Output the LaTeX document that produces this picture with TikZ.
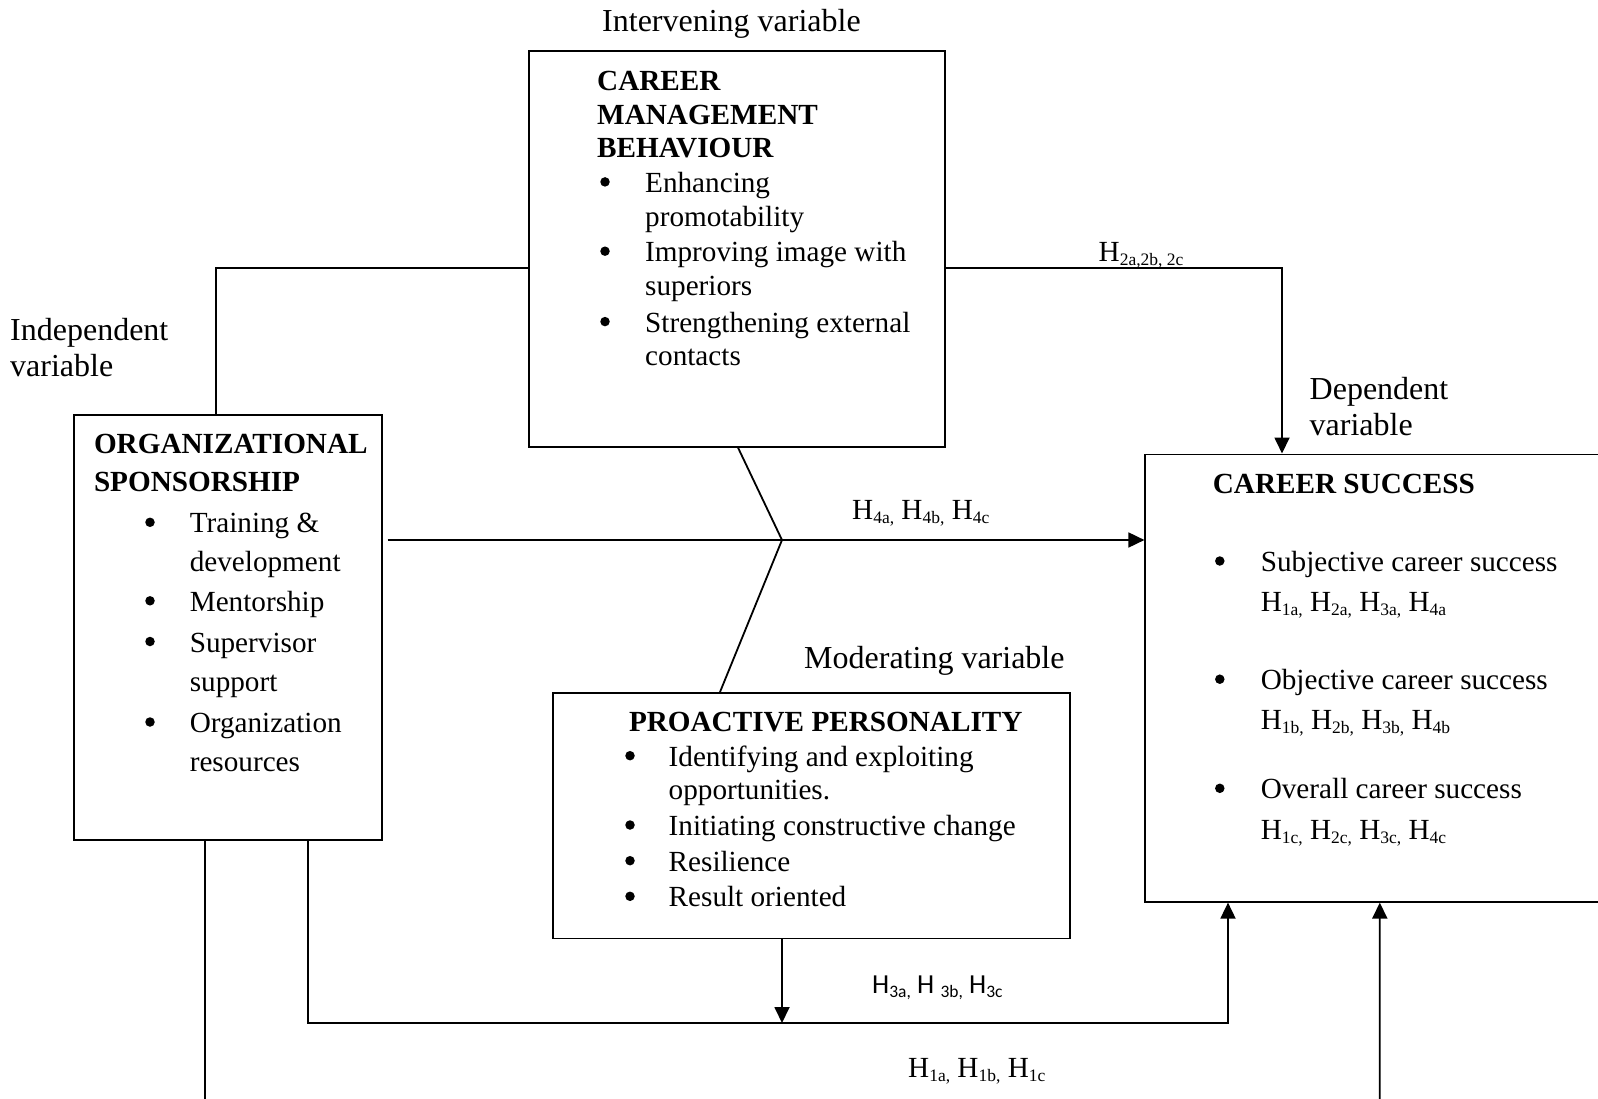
\documentclass[tikz,border=0pt]{standalone}
\usepackage{fontspec}
\setmainfont{Liberation Serif}
\newfontfamily\calibrifont{Carlito}
\usetikzlibrary{arrows.meta}
\newcommand{\sbs}[1]{\raisebox{-4pt}{\fontsize{17.5}{17.5}\selectfont #1}}
\newcommand{\sbc}[1]{\raisebox{-4pt}{\fontsize{17.5}{17.5}\selectfont #1}}
\tikzset{
  box/.style={draw, line width=1.6pt, anchor=north west, inner sep=0pt},
  conn/.style={line width=1.8pt},
  arr/.style={conn, -{Triangle[length=16pt,width=15pt]}},
  txt/.style={anchor=base west, inner sep=0pt, yshift=-3pt, font=\fontsize{29.2}{33.6}\selectfont},
  btxt/.style={txt, font=\fontsize{29.2}{33.6}\selectfont\bfseries},
  lbl/.style={anchor=base west, inner sep=0pt, yshift=-3pt, font=\fontsize{32}{36}\selectfont},
  bul/.style={circle, fill=black, inner sep=0pt, minimum size=9.5pt, yshift=7.6pt},
}
\begin{document}
\begin{tikzpicture}[x=1pt,y=-1pt]
\clip (0,0) rectangle (1598,1099);
\fill[white] (0,0) rectangle (1598,1099);

% boxes
\node[box, minimum width=416pt, minimum height=396pt] (cmb) at (528,50) {};
\node[box, minimum width=308pt, minimum height=425pt] (org) at (73,414) {};
\node[box, minimum width=517pt, minimum height=245.5pt] (pp) at (552.4,692) {};
\node[box, minimum width=480pt, minimum height=447.5pt] (cs) at (1144.4,453.5) {};

% labels
\node[lbl] (lint) at (602,28.5) {Intervening variable};
\node[lbl] (lind1) at (10,337) {Independent};
\node[lbl] (lind2) at (10,373) {variable};
\node[lbl] (ldep1) at (1309.5,396.4) {Dependent};
\node[lbl] (ldep2) at (1309.5,432) {variable};
\node[lbl] (lmod) at (804,665.4) {Moderating variable};

% CMB text
\node[btxt] (c1) at (597,87.6) {CAREER};
\node[btxt] (c2) at (597,121.3) {MANAGEMENT};
\node[btxt] (c3) at (597,154.9) {BEHAVIOUR};
\node[bul] (cb1) at (605,189.5) {};
\node[txt] (c4) at (645,189.5) {Enhancing};
\node[txt] (c5) at (645,223.2) {promotability};
\node[bul] (cb2) at (605,258.8) {};
\node[txt] (c6) at (645,258.8) {Improving image with};
\node[txt] (c7) at (645,292.5) {superiors};
\node[bul] (cb3) at (605,329.2) {};
\node[txt] (c8) at (645,329.2) {Strengthening external};
\node[txt] (c9) at (645,362.8) {contacts};

% ORG text
\node[btxt] (o1) at (93.8,450.4) {ORGANIZATIONAL};
\node[btxt] (o2) at (93.8,488.1) {SPONSORSHIP};
\node[bul] (ob1) at (150,529.9) {};
\node[txt] (o3) at (189.6,529.9) {Training \&};
\node[txt] (o4) at (189.6,568.6) {development};
\node[bul] (ob2) at (150,608.4) {};
\node[txt] (o5) at (189.6,608.4) {Mentorship};
\node[bul] (ob3) at (150,649.1) {};
\node[txt] (o6) at (189.6,649.1) {Supervisor};
\node[txt] (o7) at (189.6,688.9) {support};
\node[bul] (ob4) at (150,729.6) {};
\node[txt] (o8) at (189.6,729.6) {Organization};
\node[txt] (o9) at (189.6,768.4) {resources};

% PP text
\node[btxt] (p1) at (628.8,728.6) {PROACTIVE PERSONALITY};
\node[bul] (pb1) at (630,763.3) {};
\node[txt] (p2) at (668.5,763.3) {Identifying and exploiting};
\node[txt] (p3) at (668.5,796.9) {opportunities.};
\node[bul] (pb2) at (630,832.6) {};
\node[txt] (p4) at (668.5,832.6) {Initiating constructive change};
\node[bul] (pb3) at (630,868.3) {};
\node[txt] (p5) at (668.5,868.3) {Resilience};
\node[bul] (pb4) at (630,903.9) {};
\node[txt] (p6) at (668.5,903.9) {Result oriented};

% CS text
\node[btxt] (s1) at (1212.7,490.2) {CAREER SUCCESS};
\node[bul] (sb1) at (1219.8,568.6) {};
\node[txt] (s2) at (1260.6,568.6) {Subjective career success};
\node[txt] (s3) at (1260.6,608.4) {H\sbs{1a,} H\sbs{2a,} H\sbs{3a,} H\sbs{4a}};
\node[bul] (sb2) at (1219.8,686.8) {};
\node[txt] (s4) at (1260.6,686.8) {Objective career success};
\node[txt] (s5) at (1260.6,726.5) {H\sbs{1b,} H\sbs{2b,} H\sbs{3b,} H\sbs{4b}};
\node[bul] (sb3) at (1219.8,795.9) {};
\node[txt] (s6) at (1260.6,795.9) {Overall career success};
\node[txt] (s7) at (1260.6,836.6) {H\sbs{1c,} H\sbs{2c,} H\sbs{3c,} H\sbs{4c}};

% connector labels
\node[txt] (h2) at (1098.5,259) {H\sbs{2a,2b, 2c}};
\node[txt] (h4) at (852,516) {H\sbs{4a,} H\sbs{4b,} H\sbs{4c}};
\node[txt, font=\fontsize{27.5}{30}\calibrifont] (h3) at (872,990) {H\sbc{3a,} H \sbc{3b,} H\sbc{3c}};
\node[txt] (h1) at (908,1074) {H\sbs{1a,} H\sbs{1b,} H\sbs{1c}};

% coordinates
\coordinate (j) at (782,540);
\coordinate (b) at (782,1023);
\coordinate (csA) at ([xshift=83.6pt]cs.south west);
\coordinate (csB) at ([xshift=235.4pt]cs.south west);
\coordinate (csT) at ([xshift=137.6pt]cs.north west);
\coordinate (orgT) at ([xshift=143pt]org.north west);
\coordinate (orgB1) at ([xshift=131.8pt]org.south west);
\coordinate (orgB2) at ([xshift=235pt]org.south west);
\coordinate (bl) at (205,1115);
\coordinate (br) at (1379.8,1115);

% connectors
\draw[conn] (orgT) |- (cmb.west |- 0,268);
\draw[arr] (cmb.east |- 0,268) -| (csT);
\draw[arr, shorten <=5pt] (org.east |- j) -- (cs.west |- j);
\draw[conn] ([xshift=210pt]cmb.south west) -- (j) -- ([xshift=167.6pt]pp.north west);
\draw[arr] (pp.south -| b) -- (b);
\draw[arr] (orgB2) |- (b) -| (csA);
\draw[conn] (orgB1) -- (orgB1 |- bl);
\draw[arr] (br) -- (csB);
\end{tikzpicture}
\end{document}
